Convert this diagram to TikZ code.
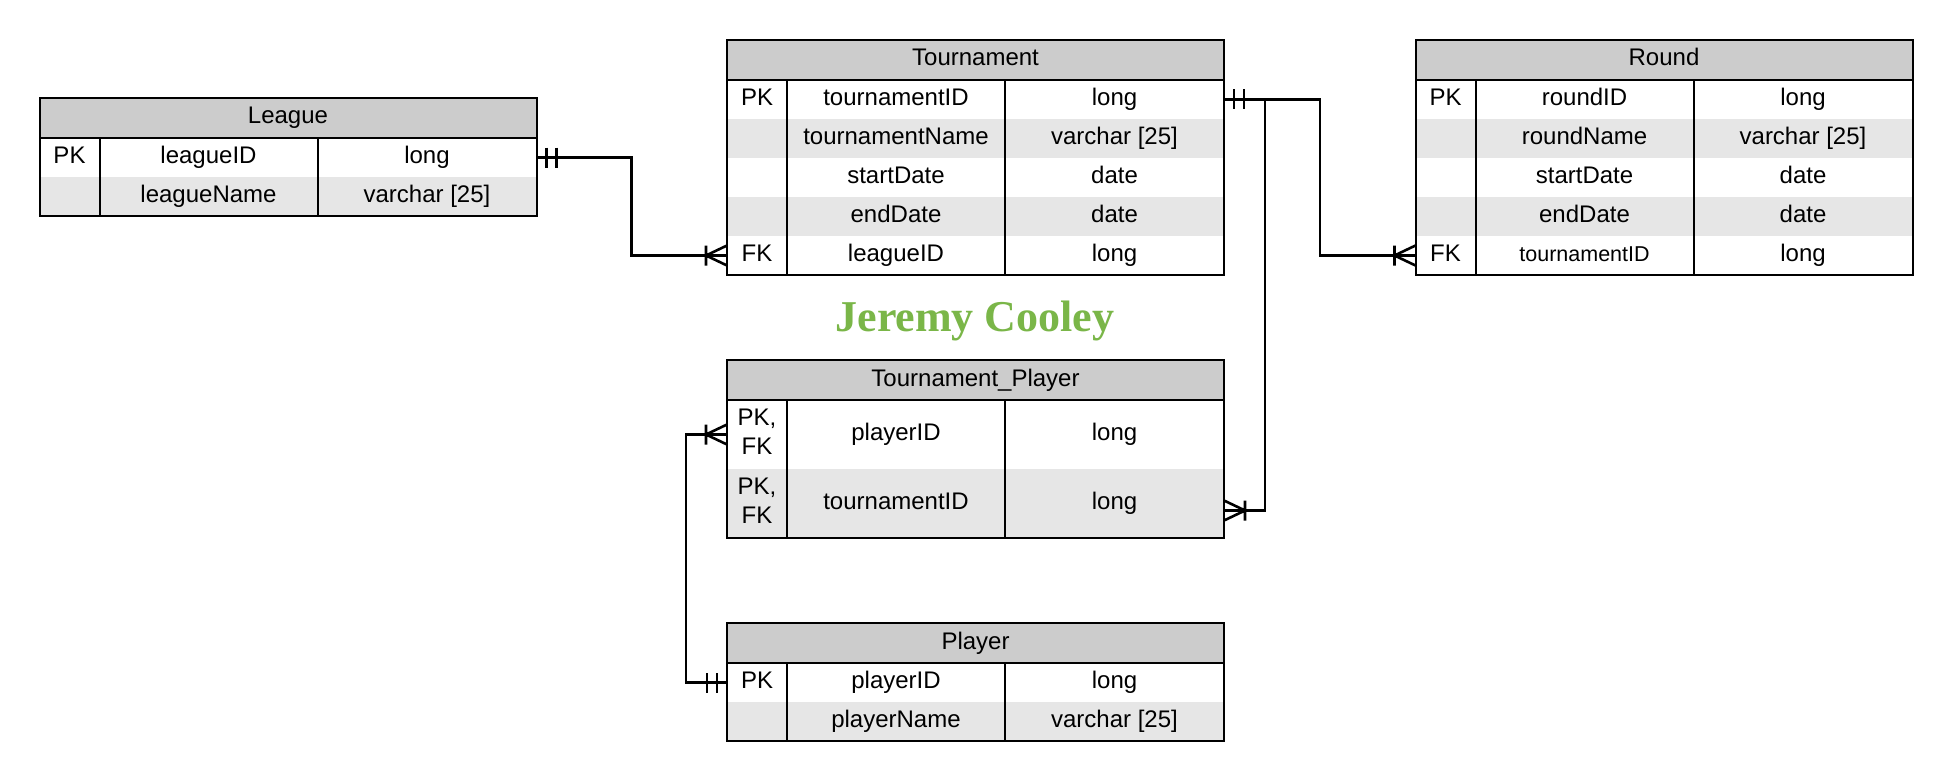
\documentclass[tikz,border=0pt]{standalone}
\usepackage{fontspec}
\setmainfont{Liberation Sans}
\newfontfamily\namefont{Liberation Serif}
\usetikzlibrary{positioning}
\definecolor{HeadGray}{HTML}{CCCCCC}
\definecolor{RowGray}{HTML}{E6E6E6}
\definecolor{NameGreen}{HTML}{7AB648}

\begin{document}
\begin{tikzpicture}[x=1pt,y=-1pt,
  mandone/.pic={\draw[link] (10,-10)--(10,10) (20,-10)--(20,10);},
  crowfoot/.pic={\draw[link] (21,-10)--(21,10) (0,-10)--(21,0)--(0,10);}]
  \tikzstyle{head}=[draw,line width=2pt,fill=HeadGray,minimum width=497pt,
    minimum height=40pt,inner sep=0pt,outer sep=0pt,
    font=\fontsize{24}{28.6}\selectfont,text height=17pt,text depth=5pt]
  \tikzstyle{row}=[minimum width=497pt,minimum height=39pt,inner sep=0pt,
    outer sep=0pt]
  \tikzstyle{cell}=[minimum height=39pt,inner sep=0pt,outer sep=0pt,
    font=\fontsize{24}{28.6}\selectfont,text height=17pt,text depth=5pt]
  \tikzstyle{keycell}=[cell,minimum width=60pt,align=center]
  \tikzstyle{namecell}=[cell,minimum width=218pt]
  \tikzstyle{typecell}=[cell,minimum width=219pt]
  \tikzstyle{frame}=[draw,line width=2pt]
  \tikzstyle{link}=[line width=2.6pt]
  \tikzstyle{signature}=[anchor=base,text=NameGreen,
    font=\namefont\bfseries\fontsize{44}{50}\selectfont]
  \path[fill=white,use as bounding box] (0,0) rectangle (1953,781);

  % League
  \node[head] (leag-0) at (288,118) {League};
  \foreach \k/\f/\t/\c [count=\i,remember=\i as \j (initially 0)] in
      {PK/leagueID/long/white, /leagueName/varchar [25]/RowGray} {
    \node[row,fill=\c,below=0pt of leag-\j] (leag-\i) {};
    \node[keycell,right=0pt of leag-\i.west] (leag-\i-k) {\k};
    \node[namecell,right=0pt of leag-\i-k] (leag-\i-n) {\f};
    \node[typecell,right=0pt of leag-\i-n] (leag-\i-t) {\t};
  }
  \draw[frame] (leag-0.north west) rectangle (leag-2.south east)
    (leag-0.south west) -- (leag-0.south east)
    (leag-1-k.north east) -- (leag-2-k.south east)
    (leag-1-n.north east) -- (leag-2-n.south east);

  % Tournament
  \node[head] (tour-0) at (975.5,60) {Tournament};
  \foreach \k/\f/\t/\c [count=\i,remember=\i as \j (initially 0)] in
      {PK/tournamentID/long/white, /tournamentName/varchar [25]/RowGray,
       /startDate/date/white, /endDate/date/RowGray, FK/leagueID/long/white} {
    \node[row,fill=\c,below=0pt of tour-\j] (tour-\i) {};
    \node[keycell,right=0pt of tour-\i.west] (tour-\i-k) {\k};
    \node[namecell,right=0pt of tour-\i-k] (tour-\i-n) {\f};
    \node[typecell,right=0pt of tour-\i-n] (tour-\i-t) {\t};
  }
  \draw[frame] (tour-0.north west) rectangle (tour-5.south east)
    (tour-0.south west) -- (tour-0.south east)
    (tour-1-k.north east) -- (tour-5-k.south east)
    (tour-1-n.north east) -- (tour-5-n.south east);

  % Round
  \node[head] (rnd-0) at (1664,60) {Round};
  \foreach \k/\f/\t/\c [count=\i,remember=\i as \j (initially 0)] in
      {PK/roundID/long/white, /roundName/varchar [25]/RowGray,
       /startDate/date/white, /endDate/date/RowGray,
       FK/{\fontsize{21.5}{26}\selectfont tournamentID}/long/white} {
    \node[row,fill=\c,below=0pt of rnd-\j] (rnd-\i) {};
    \node[keycell,right=0pt of rnd-\i.west] (rnd-\i-k) {\k};
    \node[namecell,right=0pt of rnd-\i-k] (rnd-\i-n) {\f};
    \node[typecell,right=0pt of rnd-\i-n] (rnd-\i-t) {\t};
  }
  \draw[frame] (rnd-0.north west) rectangle (rnd-5.south east)
    (rnd-0.south west) -- (rnd-0.south east)
    (rnd-1-k.north east) -- (rnd-5-k.south east)
    (rnd-1-n.north east) -- (rnd-5-n.south east);

  \node[signature] (sig) at (975,331) {Jeremy Cooley};

  % Tournament_Player
  \node[head] (tp-0) at (975.5,380) {Tournament\_Player};
  \foreach \k/\f/\t/\c [count=\i,remember=\i as \j (initially 0)] in
      {{PK,\\FK}/playerID/long/white, {PK,\\FK}/tournamentID/long/RowGray} {
    \node[row,minimum height=69pt,fill=\c,below=0pt of tp-\j] (tp-\i) {};
    \node[keycell,minimum height=69pt,text height=,text depth=6pt,
      right=0pt of tp-\i.west] (tp-\i-k) {\k};
    \node[namecell,minimum height=69pt,right=0pt of tp-\i-k] (tp-\i-n) {\f};
    \node[typecell,minimum height=69pt,right=0pt of tp-\i-n] (tp-\i-t) {\t};
  }
  \draw[frame] (tp-0.north west) rectangle (tp-2.south east)
    (tp-0.south west) -- (tp-0.south east)
    (tp-1-k.north east) -- (tp-2-k.south east)
    (tp-1-n.north east) -- (tp-2-n.south east);

  % Player
  \node[head] (play-0) at (975.5,643) {Player};
  \foreach \k/\f/\t/\c [count=\i,remember=\i as \j (initially 0)] in
      {PK/playerID/long/white, /playerName/varchar [25]/RowGray} {
    \node[row,fill=\c,below=0pt of play-\j] (play-\i) {};
    \node[keycell,right=0pt of play-\i.west] (play-\i-k) {\k};
    \node[namecell,right=0pt of play-\i-k] (play-\i-n) {\f};
    \node[typecell,right=0pt of play-\i-n] (play-\i-t) {\t};
  }
  \draw[frame] (play-0.north west) rectangle (play-2.south east)
    (play-0.south west) -- (play-0.south east)
    (play-1-k.north east) -- (play-2-k.south east)
    (play-1-n.north east) -- (play-2-n.south east);

  % relationships
  \draw[link] (leag-1.east) -- ++(95,0) |- (tour-5.west);
  \draw[link] (tour-1.east) -- ++(96,0) |- (rnd-5.west);
  \draw[link] (tour-1.east) -- ++(41,0) |- ([yshift=-7pt]tp-2.east);
  \draw[link] (play-1.west) -- ++(-41,0) |- (tp-1.west);
  \pic at (leag-1.east) {mandone};
  \pic[rotate=180] at (tour-5.west) {crowfoot};
  \pic at (tour-1.east) {mandone};
  \pic[rotate=180] at (rnd-5.west) {crowfoot};
  \pic at ([yshift=-7pt]tp-2.east) {crowfoot};
  \pic[rotate=180] at (play-1.west) {mandone};
  \pic[rotate=180] at (tp-1.west) {crowfoot};
\end{tikzpicture}
\end{document}
